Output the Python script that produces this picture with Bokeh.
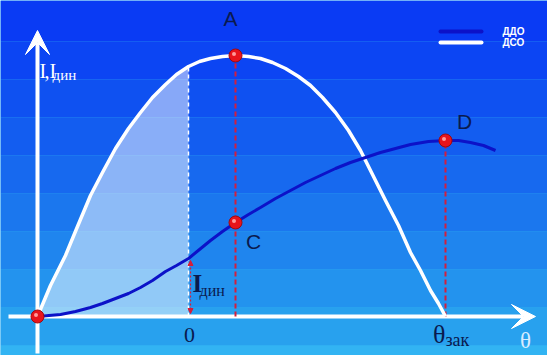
from bokeh.plotting import figure
from bokeh.models import Range1d, Arrow, VeeHead, NormalHead
from bokeh.core.properties import value
from bokeh.embed import file_html
from bokeh.resources import INLINE

# ---- data (units: theta along axis, current I) ----
theta_dso = [0, 13, 28, 40, 53, 65, 78, 91, 103, 115, 128, 139, 151, 162, 173, 185, 198, 211,
             223, 235, 248, 261, 273, 285, 298, 311, 323, 335, 348, 361, 373, 383, 393, 401, 408]
dso = [0, 31, 61, 90, 121, 144, 168, 188, 204, 219, 232, 242, 250, 255, 258, 260, 261, 260,
       258, 254, 248, 240, 231, 219, 204, 186, 166, 142, 116, 91, 64, 46, 26, 13, 0]
theta_ddo = [0, 23, 38, 53, 65, 78, 91, 103, 115, 128, 139, 151, 162, 173, 185, 198, 211,
             223, 238, 253, 268, 283, 298, 313, 328, 343, 358, 373, 391, 408, 421, 433, 446, 458]
ddo = [0, 2, 5, 9, 13, 18, 23, 29, 36, 45, 51, 58, 67, 76, 85, 94, 102,
       109, 118, 126, 134, 141, 148, 154, 159, 164, 168, 172, 175, 176, 176, 174, 171, 166]
theta_zero = 151
theta_zak = 408
pt_x = [0, 198, 198, 408]
pt_y = [0, 261, 94, 176]
pt_names = ["O", "A", "C", "D"]
legend_labels = ["ДДО", "ДСО"]

W, H = 547, 355
p = figure(width=W, height=H, output_backend="svg", toolbar_location=None,
           x_range=Range1d(-37, 510), y_range=Range1d(-39, 316), min_border=0)
p.axis.visible = False
p.grid.visible = False
p.outline_line_color = None
p.background_fill_color = "#30b2f2"
p.border_fill_color = "#30b2f2"

# banded background (top -> bottom)
edges_px = [0, 41, 79, 117, 155, 193, 231, 269, 307, 345, 355]
band_colors = ["#0a3bf4", "#0c45f3", "#0f51f1", "#135df0", "#1769ef", "#1b77ee",
               "#1f85ee", "#2393ee", "#28a1ee", "#32b4f3"]
p.quad(left=-37, right=510,
       top=[316 - e for e in edges_px[:-1]],
       bottom=[316 - e for e in edges_px[1:]],
       fill_color=band_colors, line_color=None, level="image")

# shaded area under DSO up to theta = 0 mark
n = theta_dso.index(theta_zero) + 1
p.varea(x=theta_dso[:n], y1=[0] * n, y2=dso[:n], fill_color="white", fill_alpha=0.5,
        level="image")

# axes with arrows
p.add_layout(Arrow(end=VeeHead(size=24, fill_color="white", line_color="white"),
                   x_start=-29, y_start=0, x_end=498, y_end=0,
                   line_color="white", line_width=4, level="underlay"))
p.add_layout(Arrow(end=VeeHead(size=24, fill_color="white", line_color="white"),
                   x_start=0, y_start=-37, x_end=0, y_end=286,
                   line_color="white", line_width=4, level="underlay"))

# dashed guides
p.segment(x0=[theta_zero], y0=[0], x1=[theta_zero], y1=[dso[n - 1]],
          line_color="white", line_width=1.5, line_dash="4 3")
p.segment(x0=[pt_x[1], pt_x[3]], y0=[0, 0], x1=[pt_x[1], pt_x[3]], y1=[pt_y[1], pt_y[3]],
          line_color="#d41e3c", line_width=2, line_dash="5 3")
# I_din double arrow
i_din = ddo[theta_ddo.index(theta_zero)]
p.add_layout(Arrow(start=NormalHead(size=5, fill_color="#d41e3c", line_color="#d41e3c"),
                   end=NormalHead(size=5, fill_color="#d41e3c", line_color="#d41e3c"),
                   x_start=theta_zero + 2, y_start=3, x_end=theta_zero + 2, y_end=i_din - 2,
                   line_color="#d41e3c", line_width=1.2, line_dash="2 2"))

# curves
p.line(theta_dso, dso, line_color="white", line_width=3.5, line_join="round")
p.line(theta_ddo, ddo, line_color="#0c12c8", line_width=3, line_join="round")

# points
p.scatter(pt_x, pt_y, size=13, fill_color="#e8141c", line_color="#a00a10", line_width=1)
p.scatter([x - 1.5 for x in pt_x], [y + 1.5 for y in pt_y], size=4,
          fill_color="#ff9a9a", line_color=None)

navy = "#0a1a4e"
# point labels
p.text(x=[193, 216, 427], y=[298, 75, 195],
       text=pt_names[1:], text_font=value("Liberation Sans"), text_font_size="21px",
       text_color=navy, text_align="center", text_baseline="middle")

serif = value("Liberation Serif")
# "0" and theta_zak labels
p.text(x=[theta_zero + 1], y=[-18], text=["0"], text_font=serif, text_font_size="22px",
       text_color=navy, text_align="center", text_baseline="middle")
p.text(x=[theta_zak], y=[-18], text=["θ"], text_font=serif, text_font_size="26px",
       text_color=navy, text_align="right", text_baseline="middle")
p.text(x=[theta_zak], y=[-23], text=["зак"], text_font=serif, text_font_size="18px",
       text_color=navy, text_align="left", text_baseline="middle")
p.text(x=[488], y=[-24], text=["θ"], text_font=serif, text_font_size="23px",
       text_color="#d8ecff", text_align="center", text_baseline="middle")

# I_din label
p.text(x=[theta_zero + 4], y=[33], text=["I"], text_font=serif, text_font_size="25px",
       text_font_style="bold", text_color=navy, text_align="left", text_baseline="middle")
p.text(x=[theta_zero + 11], y=[26], text=["дин"], text_font=serif, text_font_size="16px",
       text_color=navy, text_align="left", text_baseline="middle")

# y axis label
p.text(x=[2, 7, 12], y=[246, 246, 246], text=["I", ",", "I"], text_font=serif,
       text_font_size="20px", text_color="white", text_align="left", text_baseline="middle")
p.text(x=[15], y=[242], text=["дин"], text_font=serif, text_font_size="15px",
       text_color="white", text_align="left", text_baseline="middle")

# legend
p.segment(x0=[403, 403], y0=[285, 274], x1=[444, 444], y1=[285, 274],
          line_color=["#0c12c8", "white"], line_width=4, line_cap="round")
p.text(x=[465, 465], y=[285, 274], text=legend_labels, text_font=value("Liberation Sans"),
       text_font_size="10px", text_font_style="bold", text_color="white",
       text_align="left", text_baseline="middle")

open("out.html", "w").write(file_html(p, INLINE))
